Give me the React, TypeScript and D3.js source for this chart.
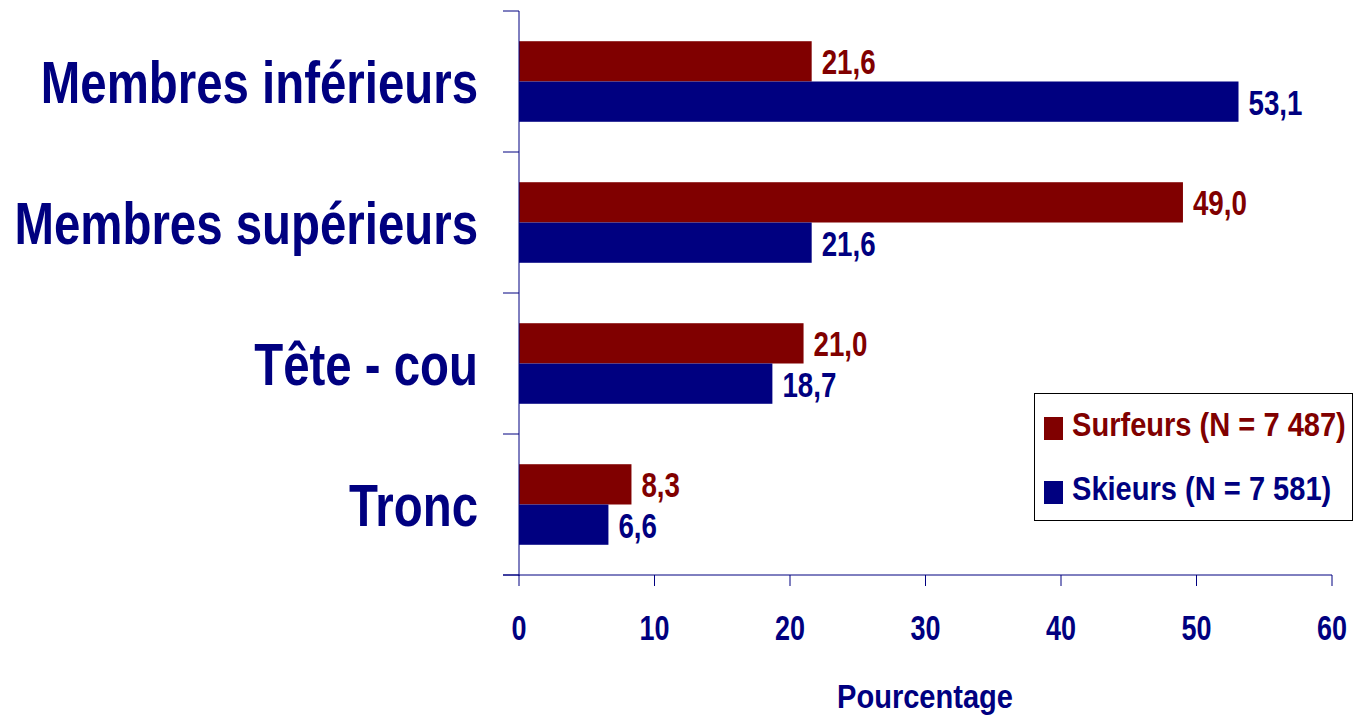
import React from "react";
import * as d3 from "d3";

const categories = ["Membres inférieurs", "Membres supérieurs", "Tête - cou", "Tronc"];
const seriesNames = ["Surfeurs (N = 7 487)", "Skieurs (N = 7 581)"];
const seriesKeys = ["surfeurs", "skieurs"];
const surfeurs = [21.6, 49.0, 21.0, 8.3];
const skieurs = [53.1, 21.6, 18.7, 6.6];
const xTicks = [0, 10, 20, 30, 40, 50, 60];
const xTitle = "Pourcentage";

const W = 1354;
const H = 718;
const NAVY = "#000080";
const MAROON = "#800000";
const colors = [MAROON, NAVY];
const FONT = "'Liberation Sans', Arial, Helvetica, sans-serif";

function SText({ x, y, s, size, fill, anchor, children }: any) {
  return (
    <text
      transform={`translate(${x},${y}) scale(${s},1)`}
      fontFamily={FONT}
      fontWeight="bold"
      fontSize={size}
      fill={fill}
      textAnchor={anchor}
    >
      {children}
    </text>
  );
}

export default function App() {
  const x = d3.scaleLinear().domain([0, 60]).range([519, 1332]);
  const y = d3.scaleBand<string>().domain(categories).range([11, 575]).padding(0);
  const inner = d3
    .scaleBand<string>()
    .domain(seriesKeys)
    .range([0, y.bandwidth()])
    .paddingInner(0)
    .paddingOuter(0.75);
  const values = [surfeurs, skieurs];
  const fmt = (v: number) => v.toFixed(1).replace(".", ",");
  const bandEdges = categories.map((c) => y(c) as number).concat([y.range()[1]]);

  return (
    <svg width={W} height={H} style={{ position: "absolute", left: 0, top: 0 }}>
      <rect x={0} y={0} width={W} height={H} fill="#fff" />
      {/* bars */}
      {categories.map((c, i) =>
        seriesKeys.map((k, j) => {
          const v = values[j][i];
          const by = (y(c) as number) + (inner(k) as number);
          return (
            <g key={c + k}>
              <rect
                x={x(0)}
                y={by}
                width={x(v) - x(0)}
                height={inner.bandwidth()}
                fill={colors[j]}
              />
              <SText
                x={x(v) + 10}
                y={by + inner.bandwidth() / 2 + 13}
                s={0.77}
                size={36}
                fill={colors[j]}
                anchor="start"
              >
                {fmt(v)}
              </SText>
            </g>
          );
        })
      )}
      {/* y axis */}
      <line x1={519} x2={519} y1={11} y2={576} stroke={NAVY} strokeWidth={1} />
      {bandEdges.map((e, i) => (
        <line key={i} x1={503} x2={519} y1={e} y2={e} stroke={NAVY} strokeWidth={1} />
      ))}
      {categories.map((c) => (
        <SText
          key={c}
          x={478}
          y={(y(c) as number) + y.bandwidth() / 2 + 21}
          s={0.79}
          size={60}
          fill={NAVY}
          anchor="end"
        >
          {c}
        </SText>
      ))}
      {/* x axis */}
      <line x1={503} x2={x(60)} y1={575} y2={575} stroke={NAVY} strokeWidth={1} />
      {xTicks.map((t) => (
        <g key={t}>
          <line x1={x(t)} x2={x(t)} y1={575} y2={586} stroke={NAVY} strokeWidth={1} />
          <SText x={x(t)} y={640} s={0.77} size={35} fill={NAVY} anchor="middle">
            {t}
          </SText>
        </g>
      ))}
      <SText x={925} y={708} s={0.88} size={33} fill={NAVY} anchor="middle">
        {xTitle}
      </SText>
      {/* legend */}
      <rect x={1034.5} y={393.5} width={318} height={127} fill="#fff" stroke="#000" strokeWidth={1} />
      {seriesNames.map((n, j) => (
        <g key={n}>
          <rect x={1044} y={417 + j * 64} width={19} height={23} fill={colors[j]} />
          <SText x={1072} y={436 + j * 64} s={0.855} size={34} fill={colors[j]} anchor="start">
            {n}
          </SText>
        </g>
      ))}
    </svg>
  );
}
